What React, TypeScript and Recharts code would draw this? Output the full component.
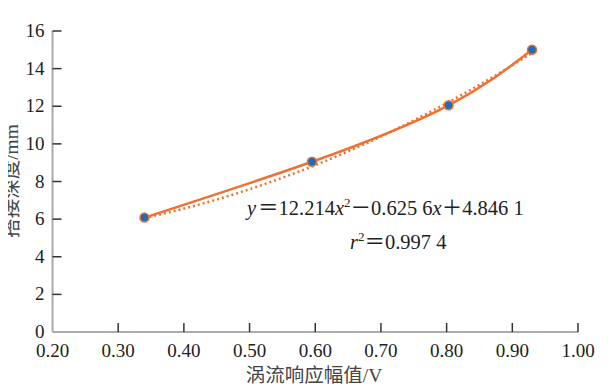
import { LineChart, Line, XAxis, YAxis } from "recharts";

// measured points (eddy current amplitude / V, lap depth / mm)
const amplitude = [0.34, 0.595, 0.803, 0.93];
const depth = [6.08, 9.05, 12.05, 15.0];

// quadratic trend line
const trendX = [0.34, 0.45, 0.55, 0.65, 0.75, 0.85, 0.93];
const trendY = [6.05, 7.04, 8.2, 9.6, 11.25, 13.14, 14.83];

const xTicks = [0.2, 0.3, 0.4, 0.5, 0.6, 0.7, 0.8, 0.9, 1.0];
const yTicks = [0, 2, 4, 6, 8, 10, 12, 14, 16];

const ORANGE = "#f07030";
const BLUE = "#1f6db5";
const SERIF = "'Liberation Serif', 'Noto Sans CJK SC', serif";

const measured = amplitude.map((x, i) => ({ x, y: depth[i] }));
const trend = trendX.map((x, i) => ({ x, y: trendY[i] }));

const XTick = ({ x, y, payload }: any) => (
  <g>
    {payload.value !== 0.2 && (
      <line x1={x} y1={y} x2={x} y2={y - 9} stroke="#333" strokeWidth={1.5} />
    )}
    <text
      x={x}
      y={y + 25}
      textAnchor="middle"
      fontFamily={SERIF}
      fontSize={19}
      fill="#222"
    >
      {Number(payload.value).toFixed(2)}
    </text>
  </g>
);

const YTick = ({ x, y, payload }: any) => (
  <g>
    {payload.value !== 0 && (
      <line x1={x} y1={y} x2={x + 9} y2={y} stroke="#333" strokeWidth={1.5} />
    )}
    <text
      x={x - 8}
      y={y + 6}
      textAnchor="end"
      fontFamily={SERIF}
      fontSize={19}
      fill="#222"
    >
      {payload.value}
    </text>
  </g>
);

export default function App() {
  return (
    <div
      style={{
        position: "relative",
        width: 608,
        height: 386,
        marginTop: -8,
        marginLeft: -8,
      }}
    >
      <LineChart
        width={608}
        height={386}
        margin={{ top: 31, right: 30, bottom: 24, left: 12 }}
      >
        <XAxis
          type="number"
          dataKey="x"
          domain={[0.2, 1.0]}
          ticks={xTicks}
          height={30}
          tickSize={0}
          tickMargin={0}
          tickLine={false}
          axisLine={{ stroke: "#aaa", strokeWidth: 2 }}
          tick={<XTick />}
          interval={0}
        />
        <YAxis
          type="number"
          dataKey="y"
          domain={[0, 16]}
          ticks={yTicks}
          width={40.5}
          tickSize={0}
          tickMargin={0}
          tickLine={false}
          axisLine={{ stroke: "#aaa", strokeWidth: 2 }}
          tick={<YTick />}
          interval={0}
        />
        <Line
          data={trend}
          dataKey="y"
          type="monotone"
          stroke={ORANGE}
          strokeWidth={2.5}
          strokeDasharray="2 3"
          dot={false}
          activeDot={false}
          isAnimationActive={false}
        />
        <Line
          data={measured}
          dataKey="y"
          type="natural"
          stroke={ORANGE}
          strokeWidth={2.5}
          dot={{ r: 4.5, fill: BLUE, stroke: ORANGE, strokeWidth: 1.5 }}
          activeDot={false}
          isAnimationActive={false}
        />
      </LineChart>
      <svg
        width={608}
        height={386}
        style={{ position: "absolute", left: 0, top: 0, pointerEvents: "none" }}
      >
        <text
          transform="translate(11,181) rotate(-90)"
          textAnchor="middle"
          dominantBaseline="central"
          fontFamily={SERIF}
          fontSize={19.5}
          fill="#444"
        >
          搭接深度/mm
        </text>
        <text
          x={314}
          y={382}
          textAnchor="middle"
          fontFamily={SERIF}
          fontSize={19.5}
          fill="#444"
        >
          涡流响应幅值/V
        </text>
        <text x={247} y={215} fontFamily={SERIF} fontSize={20.5} fill="#222">
          <tspan fontStyle="italic">y</tspan>
          <tspan dx={2}>＝</tspan>
          <tspan>12.214</tspan>
          <tspan fontStyle="italic">x</tspan>
          <tspan fontSize={13} dy={-8}>2</tspan>
          <tspan dy={8}>－</tspan>
          <tspan>0.625 6</tspan>
          <tspan fontStyle="italic">x</tspan>
          <tspan>＋</tspan>
          <tspan>4.846 1</tspan>
        </text>
        <text x={350} y={249} fontFamily={SERIF} fontSize={20.5} fill="#222">
          <tspan fontStyle="italic">r</tspan>
          <tspan fontSize={13} dy={-8}>2</tspan>
          <tspan dy={8}>＝</tspan>
          <tspan>0.997 4</tspan>
        </text>
      </svg>
    </div>
  );
}
